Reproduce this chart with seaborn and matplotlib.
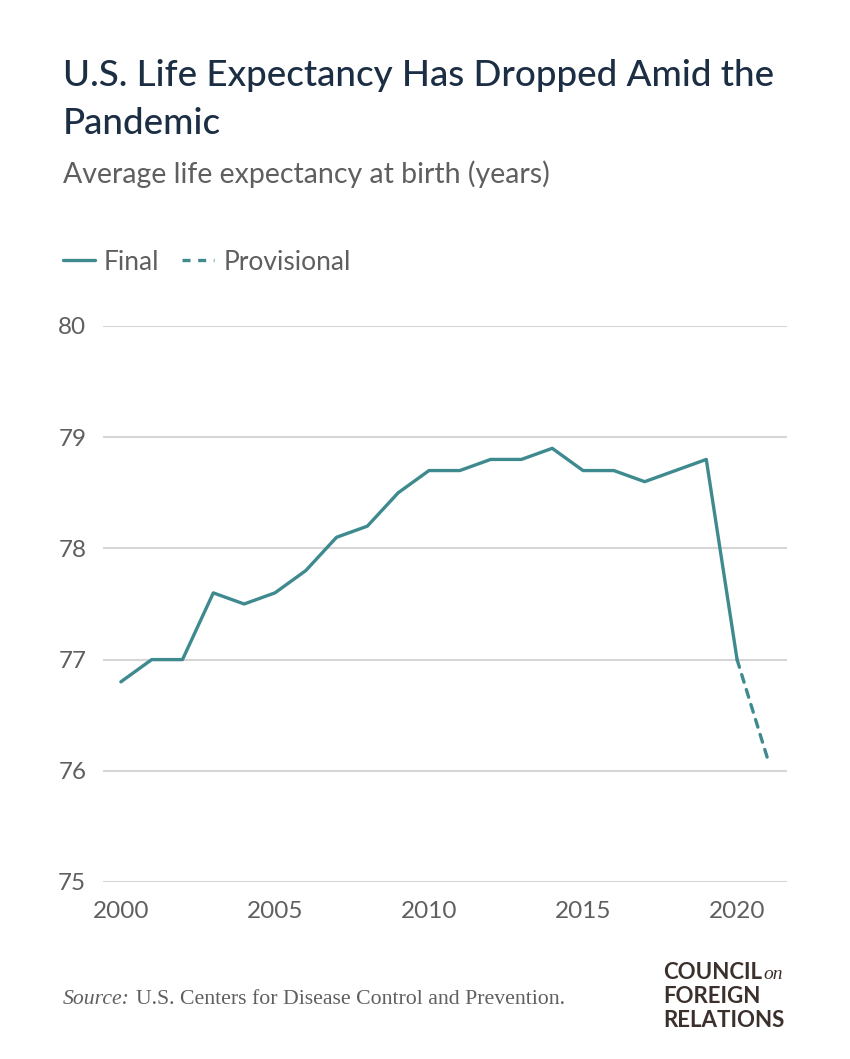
import pandas as pd
import matplotlib
matplotlib.use("Agg")
import matplotlib.pyplot as plt
import seaborn as sns

# Data
final_years = list(range(2000, 2021))
final_values = [76.8, 77.0, 77.0, 77.6, 77.5, 77.6, 77.8, 78.1, 78.2, 78.5, 78.7,
                78.7, 78.8, 78.8, 78.9, 78.7, 78.7, 78.6, 78.7, 78.8, 77.0]
prov_years = [2020, 2021]
prov_values = [77.0, 76.1]
x_ticks = [2000, 2005, 2010, 2015, 2020]
y_ticks = [75, 76, 77, 78, 79, 80]

df = pd.concat([
    pd.DataFrame({"year": final_years, "value": final_values, "series": "Final"}),
    pd.DataFrame({"year": prov_years, "value": prov_values, "series": "Provisional"}),
])

TEAL = "#3f8a8f"
NAVY = "#1c2e44"
GREY = "#5f5f5f"

sns.set_style("white")
plt.rcParams["font.family"] = ["Lato", "DejaVu Sans"]

fig = plt.figure(figsize=(8.5, 10.59), dpi=100)
ax = fig.add_axes([103 / 850, 1 - 882 / 1059, 684 / 850, 556 / 1059])

sns.lineplot(data=df, x="year", y="value", hue="series", style="series",
             palette={"Final": TEAL, "Provisional": TEAL},
             dashes={"Final": "", "Provisional": (2.4, 2.3)},
             linewidth=2.4, ax=ax)
for ln in ax.get_lines():
    ln.set_dash_capstyle("round")
    ln.set_solid_capstyle("round")

ax.set_xlim(1999.42, 2021.62)
ax.set_ylim(75, 80)
ax.set_xticks(x_ticks)
ax.set_yticks(y_ticks)
ax.set_xlabel("")
ax.set_ylabel("")
ax.grid(axis="y", color="#d6d6d6", linewidth=1.5)
ax.grid(axis="x", visible=False)
for s in ax.spines.values():
    s.set_visible(False)
ax.tick_params(axis="both", length=0, labelsize=17.5, labelcolor=GREY)
ax.tick_params(axis="x", pad=14)
ax.tick_params(axis="y", pad=12)

sns.move_legend(ax, "center left", bbox_to_anchor=(63 / 850, 1 - 262 / 1059),
                bbox_transform=fig.transFigure, ncol=2, frameon=False, title=None,
                fontsize=19, handlelength=1.2, handletextpad=0.35, columnspacing=0.87,
                borderaxespad=0, borderpad=0)
for t in ax.get_legend().get_texts():
    t.set_color(GREY)

fig.text(63 / 850, 1 - 86 / 1059, "U.S. Life Expectancy Has Dropped Amid the",
         fontsize=26.5, color=NAVY, fontweight="medium", va="baseline")
fig.text(63 / 850, 1 - 134 / 1059, "Pandemic",
         fontsize=26.5, color=NAVY, fontweight="medium", va="baseline")
fig.text(63 / 850, 1 - 183 / 1059, "Average life expectancy at birth (years)",
         fontsize=20.5, color=GREY, va="baseline")

# source line: italic label followed by plain text
fig.canvas.draw()
renderer = fig.canvas.get_renderer()
src = fig.text(63 / 850, 1 - 1004 / 1059, "Source:", fontsize=15.7, color=GREY,
               family="Liberation Serif", style="italic", va="baseline")
x_end = src.get_window_extent(renderer).x1
fig.text((x_end + 6) / 850, 1 - 1004 / 1059,
         "U.S. Centers for Disease Control and Prevention.",
         fontsize=15.7, color=GREY, family="Liberation Serif", va="baseline")

LOGO = "#3b302c"
council = fig.text(663 / 850, 1 - 979 / 1059, "COUNCIL", fontsize=16, color=LOGO,
                   fontweight="bold", va="baseline")
x_end = council.get_window_extent(renderer).x1
fig.text((x_end + 1) / 850, 1 - 979 / 1059, "on", fontsize=14, color=LOGO,
         family="Liberation Serif", style="italic", va="baseline")
fig.text(663 / 850, 1 - 1003 / 1059, "FOREIGN", fontsize=16, color=LOGO,
         fontweight="bold", va="baseline")
fig.text(663 / 850, 1 - 1027 / 1059, "RELATIONS", fontsize=16, color=LOGO,
         fontweight="bold", va="baseline")

fig.savefig("out.png", dpi=100, facecolor="white")
